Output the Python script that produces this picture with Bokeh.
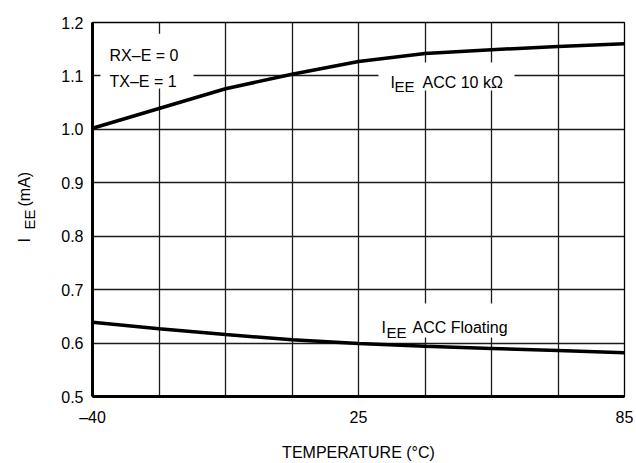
import numpy as np
from bokeh.plotting import figure
from bokeh.layouts import row
from bokeh.models import Range1d, FixedTicker, PrintfTickFormatter, Label, BoxAnnotation
from bokeh.core.properties import value
from bokeh.embed import file_html
from bokeh.resources import INLINE

# ---- data ----
temps = [-40, -23.75, -7.5, 8.75, 25, 40, 55, 70, 85]          # °C
iee_acc_10k = [1.002, 1.039, 1.076, 1.103, 1.127, 1.142, 1.149, 1.155, 1.160]   # mA
iee_acc_float = [0.639, 0.627, 0.616, 0.606, 0.599, 0.594, 0.590, 0.586, 0.582]  # mA

x_tick_temps = [-40, 25, 85]
x_tick_labels = ["–40", "25", "85"]
y_ticks = [0.5, 0.6, 0.7, 0.8, 0.9, 1.0, 1.1, 1.2]

# the chart's temperature axis: -40..25 and 25..85 each span four grid divisions
scale_temps = [-40, 25, 85]
scale_divs = [0, 4, 8]


def to_div(t):
    return np.interp(t, scale_temps, scale_divs)


FONT = "Liberation Sans"
TOP, BOTTOM = 22, 67
H = 463
LW = 50   # width of the strip carrying the y-axis title
PW = 584

p = figure(width=PW, height=H, output_backend="svg", toolbar_location=None,
           x_range=Range1d(0, 8), y_range=Range1d(0.5, 1.2),
           min_border_left=92 - LW, min_border_right=PW - (92 - LW) - 532,
           min_border_top=TOP, min_border_bottom=BOTTOM,
           background_fill_color="white", border_fill_color="white")

p.xaxis.ticker = FixedTicker(ticks=list(range(9)))
overrides = {i: "" for i in range(9)}
for t, lab_ in zip(x_tick_temps, x_tick_labels):
    overrides[int(to_div(t))] = lab_
p.xaxis.major_label_overrides = overrides
p.yaxis.ticker = FixedTicker(ticks=y_ticks)
p.yaxis.formatter = PrintfTickFormatter(format="%.1f")

for ax in (p.xaxis, p.yaxis):
    ax.axis_line_width = 3
    ax.axis_line_color = "black"
    ax.major_tick_in = 0
    ax.major_tick_out = 0
    ax.minor_tick_line_color = None
    ax.major_label_text_font = FONT
    ax.major_label_text_font_size = "16px"
    ax.major_label_text_color = "black"
p.xaxis.major_label_standoff = 12
p.yaxis.major_label_standoff = 9

p.xaxis.axis_label = "TEMPERATURE (°C)"
p.xaxis.axis_label_text_font = FONT
p.xaxis.axis_label_text_font_size = "16px"
p.xaxis.axis_label_text_font_style = "normal"
p.xaxis.axis_label_text_color = "black"
p.xaxis.axis_label_standoff = 15

p.grid.grid_line_color = "#1a1a1a"
p.grid.grid_line_width = 1.3
p.grid.grid_line_alpha = 1.0
p.outline_line_color = "black"
p.outline_line_width = 1.3
p.outline_line_alpha = 1.0

p.line(x=to_div(temps), y=iee_acc_10k, line_width=3.5, line_color="black")
p.line(x=to_div(temps), y=iee_acc_float, line_width=3.5, line_color="black")

# white boxes behind the in-plot texts
for l, r, t, b in [(0.12, 1.52, 1.179, 1.0765), (4.30, 6.346, 1.125, 1.0727), (4.26, 6.44, 0.674, 0.6104)]:
    p.add_layout(BoxAnnotation(left=l, right=r, top=t, bottom=b, fill_color="white",
                               fill_alpha=1.0, line_color=None))


def lab(x, y, text, size="16px"):
    p.add_layout(Label(x=x, y=y, text=text, text_font=FONT, text_font_size=size,
                       text_color="black", text_baseline="alphabetic", text_align="left"))


lab(0.256, 1.138, "RX–E = 0")
lab(0.256, 1.0896, "TX–E = 1")

lab(4.48, 1.0877, "I")
lab(4.54, 1.080, "EE", size="15px")
lab(4.962, 1.0877, "ACC 10 kΩ")

lab(4.346, 0.6292, "I")
lab(4.421, 0.6198, "EE", size="15px")
lab(4.812, 0.6292, "ACC Floating")

# y-axis title strip (I with subscript EE, then (mA)), rotated
q = figure(width=LW, height=H, output_backend="svg", toolbar_location=None,
           x_range=Range1d(0, LW), y_range=p.y_range,
           x_axis_type=None, y_axis_type=None,
           min_border_left=0, min_border_right=0,
           min_border_top=TOP, min_border_bottom=BOTTOM,
           background_fill_color="white", border_fill_color="white")
q.outline_line_color = None
q.grid.visible = False
ylab_text = ["I", "EE", "(mA)"]
ylab_x = [24, 29, 24]
ylab_y = [0.7882, 0.8126, 0.8556]
ylab_size = ["16px", "15px", "16px"]
q.text(x=ylab_x, y=ylab_y, text=ylab_text, angle=np.pi / 2, text_font=value(FONT),
       text_font_size=ylab_size, text_color="black", text_baseline="alphabetic",
       text_align="left")

layout = row(q, p, spacing=0)
open("out.html", "w").write(file_html(layout, INLINE))
